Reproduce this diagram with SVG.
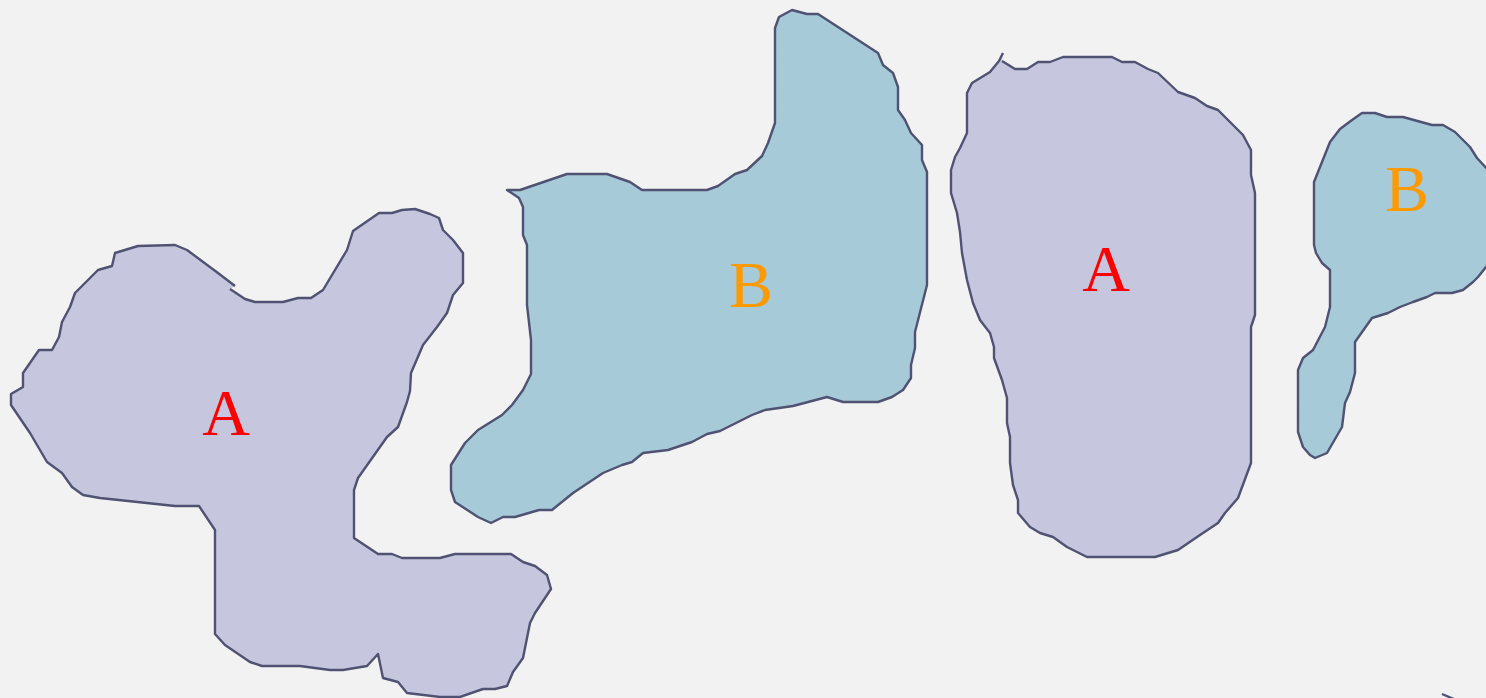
<svg xmlns="http://www.w3.org/2000/svg" width="1486" height="698" viewBox="0 0 1486 698">
<style>
.a{fill:#c6c6de;stroke:#4f5272;stroke-width:2.4;stroke-linejoin:round}
.b{fill:#a6cad8;stroke:#4f5272;stroke-width:2.4;stroke-linejoin:round}
.t{font-family:"Liberation Serif",serif;font-size:66px;text-anchor:middle}
.ta{fill:#ff0000}
.tb{fill:#ff9900}
</style>
<rect width="1486" height="698" fill="#f2f2f2"/>
<g id="regionA1">
<path class="a" d="M235,286 L218,273 L187,250 L175,245 L138,246 L115,253 L112,266 L98,270 L75,293 L70,307 L62,322 L59,337 L52,350 L39,350 L23,373 L23,387 L11,394 L11,405 L30,433 L47,462 L62,473 L72,487 L83,495 L100,498 L175,506 L199,506 L215,530 L215,634 L225,645 L250,662 L262,666 L300,666 L330,670 L343,670 L367,666 L378,654 L383,678 L398,682 L407,693 L440,697 L460,697 L483,689 L495,689 L507,686 L513,672 L523,658 L530,623 L535,613 L551,589 L547,575 L535,566 L523,562 L511,554 L455,554 L440,558 L402,558 L392,554 L378,554 L354,538 L354,490 L358,478 L387,437 L398,427 L407,402 L410,391 L411,373 L423,345 L437,327 L447,313 L453,295 L463,283 L463,253 L453,240 L443,230 L439,218 L430,214 L415,209 L402,210 L392,213 L379,213 L353,231 L347,250 L323,290 L311,298 L298,298 L283,302 L255,302 L245,299 L230,289"/>
<text class="t ta" x="226" y="435">A</text>
</g>
<g id="regionB1">
<path class="b" d="M507,190 L520,190 L567,174 L607,174 L630,182 L642,190 L707,190 L718,186 L735,174 L747,170 L762,156 L768,143 L775,123 L775,28 L779,17 L792,10 L807,14 L818,14 L878,53 L883,65 L893,73 L898,87 L898,110 L905,120 L911,133 L922,145 L922,160 L927,172 L927,285 L915,332 L915,348 L911,365 L911,378 L903,390 L892,397 L878,402 L843,402 L827,397 L793,406 L765,410 L752,415 L720,431 L707,434 L692,442 L668,450 L643,453 L632,462 L622,465 L603,473 L573,493 L552,510 L539,510 L515,517 L503,517 L491,523 L478,517 L455,502 L451,490 L451,465 L465,443 L478,430 L502,415 L512,405 L523,390 L531,374 L531,340 L527,305 L527,245 L523,235 L523,207 L519,198 Z"/>
<text class="t tb" x="751" y="307">B</text>
</g>
<g id="regionA2">
<path class="a" d="M1003,53 L999,61 L990,72 L972,83 L967,93 L967,133 L960,148 L955,157 L951,170 L951,193 L957,213 L960,232 L962,253 L967,280 L973,303 L980,320 L990,333 L994,347 L994,358 L1002,380 L1007,398 L1007,423 L1010,437 L1010,463 L1013,485 L1018,500 L1018,513 L1030,527 L1040,533 L1053,537 L1067,547 L1087,557 L1155,557 L1178,550 L1200,535 L1218,523 L1225,513 L1238,498 L1251,463 L1251,327 L1255,315 L1255,193 L1251,175 L1251,150 L1243,135 L1218,110 L1207,106 L1195,98 L1178,92 L1158,73 L1148,69 L1135,62 L1122,62 L1112,57 L1063,57 L1050,62 L1038,62 L1027,69 L1015,69 L1002,61"/>
<text class="t ta" x="1106" y="291">A</text>
</g>
<g id="regionB2">
<path class="b" d="M1362,113 L1375,113 L1387,117 L1403,117 L1432,125 L1443,125 L1455,132 L1470,147 L1477,158 L1490,172 L1490,262 L1478,277 L1473,282 L1463,290 L1452,293 L1435,293 L1427,297 L1413,302 L1400,307 L1388,313 L1372,318 L1355,342 L1355,373 L1350,392 L1345,403 L1342,427 L1327,453 L1315,458 L1310,455 L1303,447 L1298,432 L1298,370 L1303,358 L1313,350 L1325,327 L1330,307 L1330,270 L1322,263 L1316,253 L1314,245 L1314,182 L1320,167 L1330,142 L1340,129 L1352,120 Z"/>
<text class="t tb" x="1407" y="211">B</text>
</g>
<g id="connectors">
<path d="M1442,694 L1454,699" fill="none" stroke="#4f5272" stroke-width="2.4"/>
</g>
</svg>
